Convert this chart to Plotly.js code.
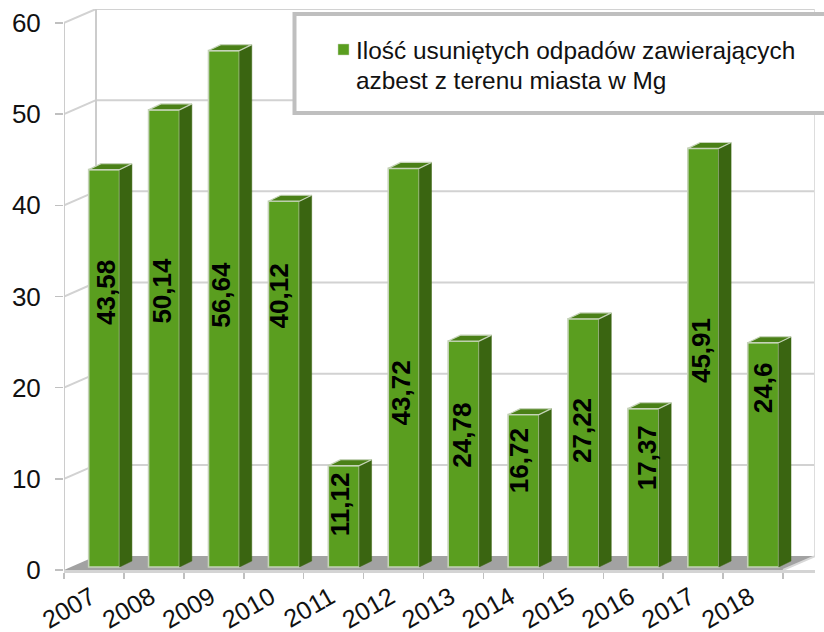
<!DOCTYPE html>
<html>
<head>
<meta charset="utf-8">
<script src="https://cdn.plot.ly/plotly-3.0.1.min.js"></script>
<style>html,body{margin:0;padding:0;background:#fff;overflow:hidden}</style>
</head>
<body>
<div id="chart" style="width:824px;height:632px"></div>
<script>
var years = ["2007","2008","2009","2010","2011","2012","2013","2014","2015","2016","2017","2018"];
var values = [43.58,50.14,56.64,40.12,11.12,43.72,24.78,16.72,27.22,17.37,45.91,24.6];
var labelHeights = [30.4,30.65,30.2,30.1,7.2,19.45,14.75,12.0,15.3,12.3,24.1,19.96];
var labelNudges = [2,-3,-3,-5,-3,-3,-2.5,-5,-2,3,-2.5,0];
var yTicks = [0,10,20,30,40,50,60];
var seriesName = "Ilość usuniętych odpadów zawierających";
var seriesName2 = "azbest z terenu miasta w Mg";

var W = 824, H = 632, mL = 64, mR = 9, mT = 9, mB = 62;
var wallDX = 0.534, wallDY = 1.53;
var barOffset = 0.67, barWidth = 0.517, baseLift = 0.33, depthX = 0.205, depthY = 0.65;
var xMax = years.length + wallDX, yMax = 60 + wallDY;
var grid = "#d2d2d2";

function px(p){ return (p - mL) / (W - mL - mR); }
function py(p){ return 1 - (p - mT) / (H - mT - mB); }
function line(x0,y0,x1,y1,c,w){
  return {type:"line",layer:"below",xref:"x",yref:"y",x0:x0,y0:y0,x1:x1,y1:y1,line:{color:c||grid,width:w||2}};
}

var shapes = [];
shapes.push({type:"path",layer:"below",xref:"x",yref:"y",
  path:"M0,0 L"+years.length+",0 L"+xMax+","+wallDY+" L"+wallDX+","+wallDY+" Z",
  fillcolor:"#a2a2a2",line:{width:0}});
yTicks.forEach(function(v){
  if(v>0){
    shapes.push(line(0,v,wallDX,v+wallDY));
    shapes.push(line(wallDX,v+wallDY,xMax,v+wallDY));
  }
});
shapes.push(line(0,0,0,60,"#cccccc",2));
shapes.push(line(wallDX,wallDY,wallDX,yMax,"#cccccc",2));
shapes.push(line(xMax,wallDY,xMax,yMax,"#dddddd",2));
shapes.push(line(years.length,0,xMax,wallDY,"#d8d8d8",2));
shapes.push({type:"rect",layer:"above",xref:"paper",yref:"paper",
  x0:px(294.5),x1:px(860),y0:py(113),y1:py(14),fillcolor:"#ffffff",line:{color:"#bfbfbf",width:4}});
shapes.push({type:"rect",layer:"above",xref:"paper",yref:"paper",
  x0:px(338),x1:px(349),y0:py(55),y1:py(44),fillcolor:"#5a9e1f",line:{color:"#c9d6bd",width:0.5}});

var labelTicks = years.map(function(_,i){return i+0.45;});
var bounds = years.map(function(_,i){return i;}).concat([years.length]);
var barX = years.map(function(_,i){return i+barOffset;});

var sideX=[], sideY=[], topX=[], topY=[];
values.forEach(function(v,i){
  var l = barX[i]-barWidth/2, r = barX[i]+barWidth/2, b = baseLift, t = v+baseLift;
  sideX.push(r,r+depthX,r+depthX,r,r,null);
  sideY.push(b,b+depthY,t+depthY,t,b,null);
  topX.push(l,l+depthX,r+depthX,r,l,null);
  topY.push(t,t+depthY,t+depthY,t,t,null);
});

var traces = [
  {type:"bar",name:seriesName+" "+seriesName2,x:barX,y:values,base:baseLift,width:barWidth,
   marker:{color:"#5a9e1f",line:{color:"#c5d3b8",width:1.6}},hoverinfo:"skip",showlegend:false},
  {type:"scatter",mode:"lines",x:sideX,y:sideY,fill:"toself",fillcolor:"#3a6511",
   line:{color:"#3a6511",width:0.5},hoverinfo:"skip",showlegend:false},
  {type:"scatter",mode:"lines",x:topX,y:topY,fill:"toself",fillcolor:"#4a8017",
   line:{color:"#c5d3b8",width:1.2},hoverinfo:"skip",showlegend:false}
];

var annotations = values.map(function(v,i){
  return {xref:"x",yref:"y",x:barX[i],y:labelHeights[i],xshift:labelNudges[i],
    text:String(v).replace(".",","),textangle:-90,showarrow:false,
    font:{family:"Liberation Sans, Arial, sans-serif",size:26,color:"#000",weight:700}};
});
annotations.push({xref:"paper",yref:"paper",x:px(354),y:py(50),xanchor:"left",yanchor:"middle",showarrow:false,
  text:seriesName,font:{family:"Liberation Sans, Arial, sans-serif",size:24.4,color:"#111"}});
annotations.push({xref:"paper",yref:"paper",x:px(354),y:py(80),xanchor:"left",yanchor:"middle",showarrow:false,
  text:seriesName2,font:{family:"Liberation Sans, Arial, sans-serif",size:24.4,color:"#111"}});

var layout = {
  width:W,height:H,autosize:false,
  margin:{l:mL,r:mR,t:mT,b:mB,pad:0},
  paper_bgcolor:"#fff",plot_bgcolor:"#fff",
  showlegend:false,bargap:0,
  xaxis:{range:[0,xMax],tickmode:"array",tickvals:labelTicks,ticktext:years,ticks:"",tickangle:-30,
    showgrid:false,zeroline:false,showline:true,linecolor:"#d4d4d4",linewidth:3,fixedrange:true,
    tickfont:{family:"Liberation Sans, Arial, sans-serif",size:25,color:"#111"},
    minor:{tickmode:"array",tickvals:bounds,ticks:"outside",ticklen:6,tickwidth:1.5,tickcolor:"#c0c0c0",showgrid:false}},
  yaxis:{range:[0,yMax],tickmode:"array",tickvals:yTicks,ticktext:yTicks.map(String),ticks:"outside",ticklen:8,tickwidth:1.5,tickcolor:"#c0c0c0",
    showgrid:false,zeroline:false,showline:false,fixedrange:true,ticklabelstandoff:9,
    tickfont:{family:"Liberation Sans, Arial, sans-serif",size:26,color:"#111"}},
  shapes:shapes,annotations:annotations
};
Plotly.newPlot("chart",traces,layout,{displayModeBar:false,staticPlot:true});
</script>
</body>
</html>
